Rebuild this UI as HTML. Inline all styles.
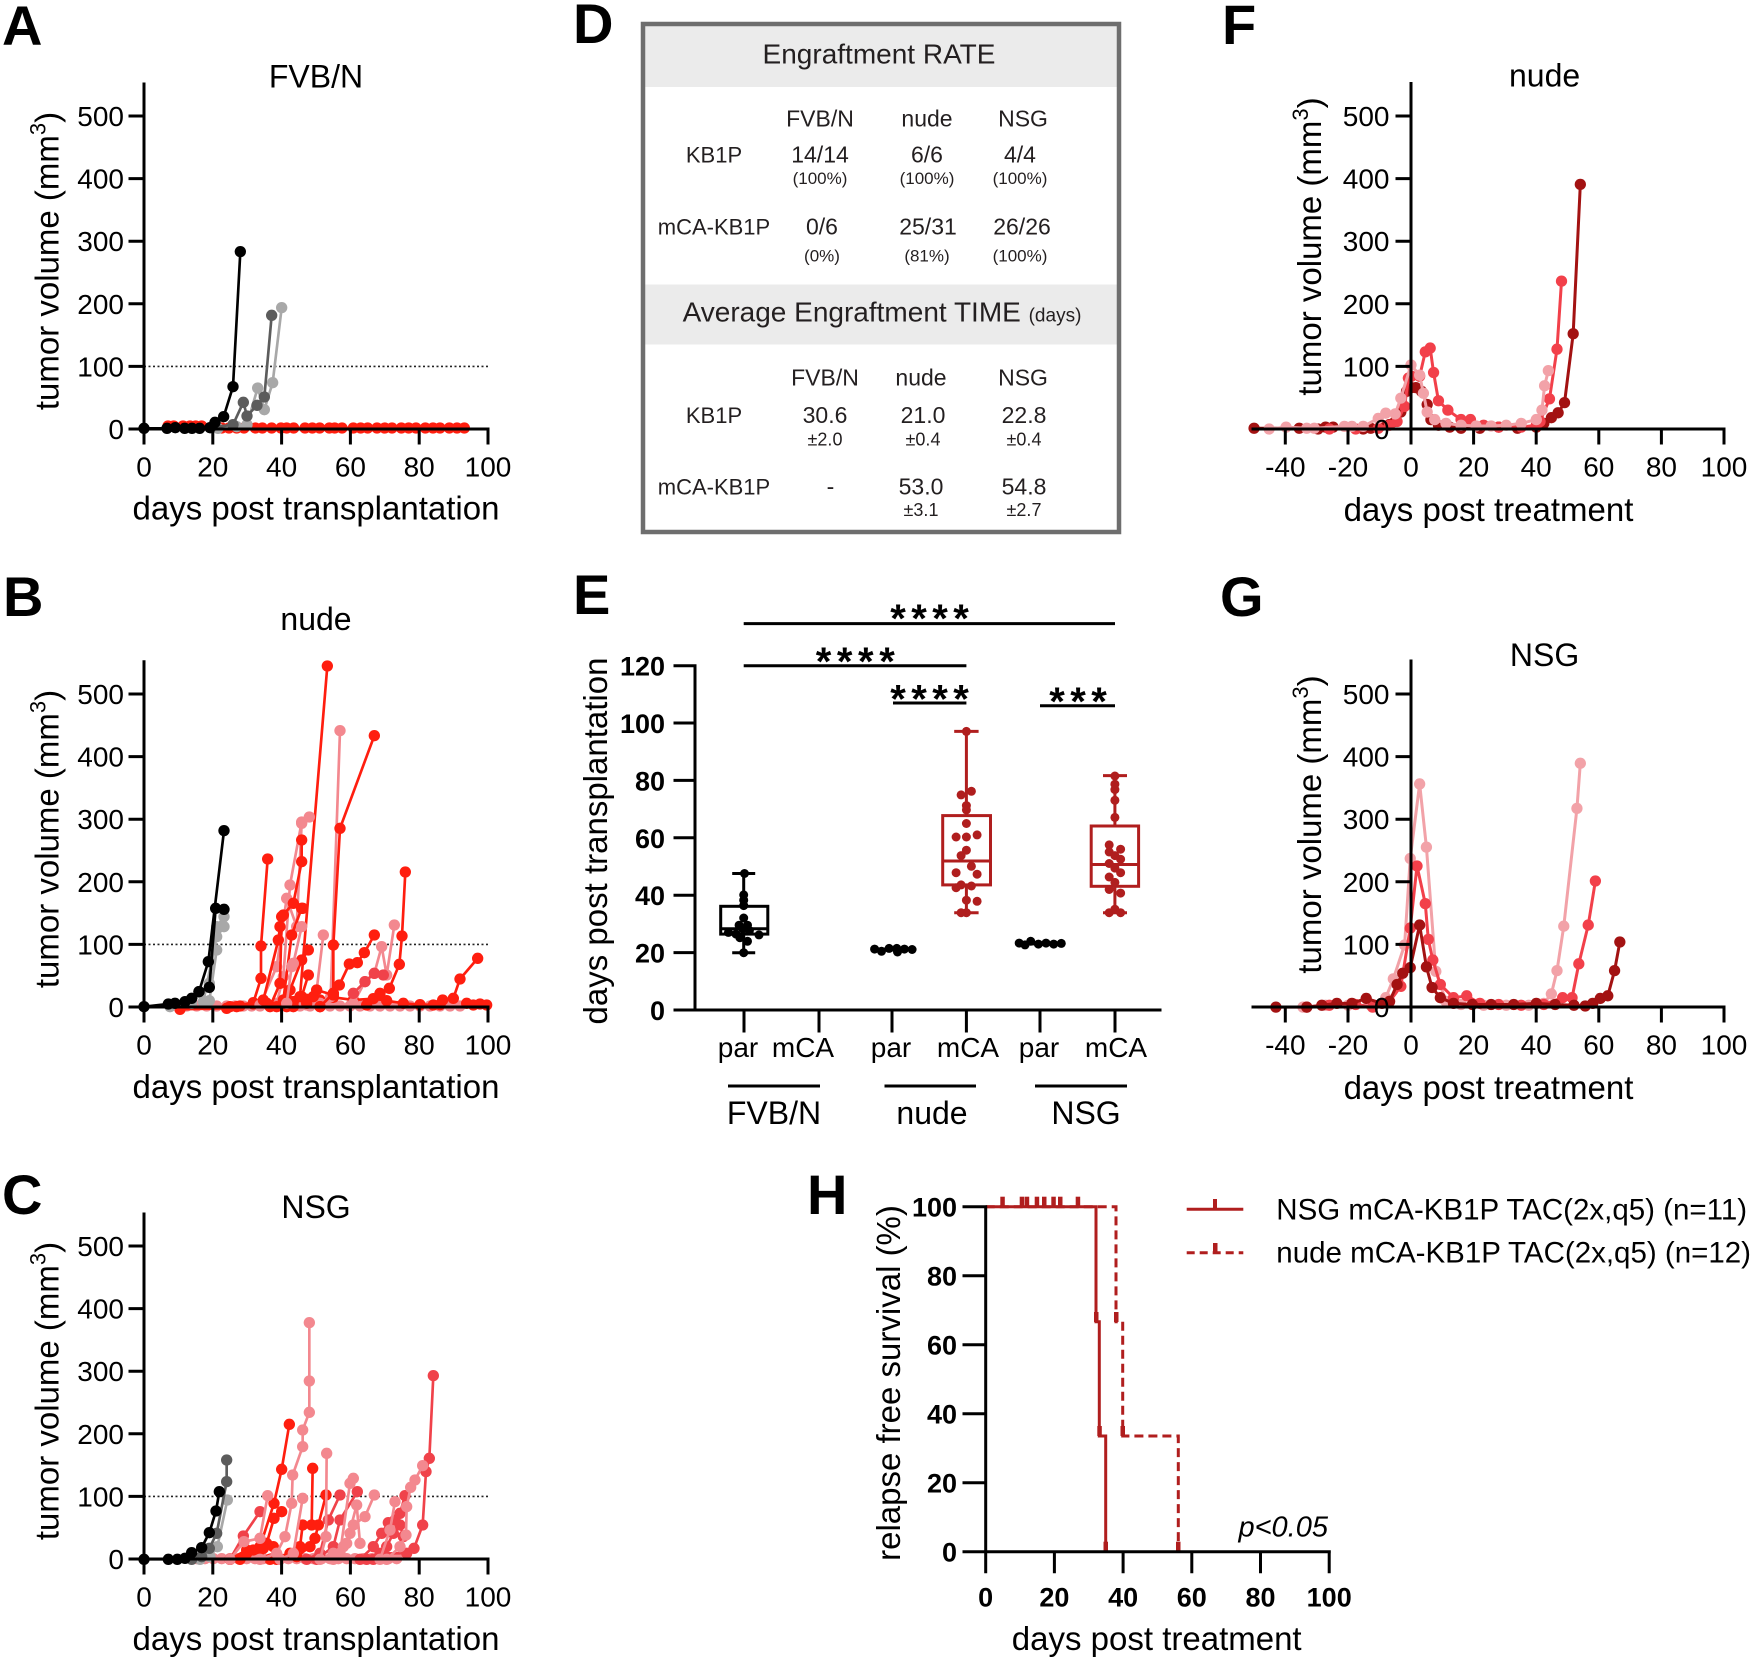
<!DOCTYPE html>
<html><head><meta charset="utf-8"><style>
html,body{margin:0;padding:0;background:#fff;}
svg{display:block;}
.ax{stroke:#000;stroke-width:3;fill:none;stroke-linecap:square;}
.tk{font-size:28px;fill:#000;}
.tt{font-size:33px;fill:#000;}
.ti{font-size:32px;fill:#000;}
.lt{font-size:56px;font-weight:bold;fill:#000;}
.s{fill:none;stroke-width:8;stroke-linejoin:round;}
.k{stroke:#000;marker:url(#m_k);}
.dg{stroke:#5c5c5c;marker:url(#m_dg);}
.lg{stroke:#a8a8a8;marker:url(#m_lg);}
.r{stroke:#ff1e0f;marker:url(#m_r);}
.m{stroke:#f0424a;marker:url(#m_m);}
.p{stroke:#f3888f;marker:url(#m_p);}
.d{stroke:#a31212;marker:url(#m_d);}
.fr{stroke:#f2404a;marker:url(#m_fr);}
.fp{stroke:#f2a2a8;marker:url(#m_fp);}
.tb{font-family:"Liberation Sans",Arial,sans-serif;fill:#231f20;}
</style></head><body>
<svg width="1750" height="1663" viewBox="0 0 1750 1663" font-family="Liberation Sans, Arial, sans-serif">
<defs>
<marker id="m_k" viewBox="-20 -20 40 40" markerWidth="40" markerHeight="40" markerUnits="userSpaceOnUse" refX="0" refY="0"><circle r="17" fill="#000"/></marker>
<marker id="m_dg" viewBox="-20 -20 40 40" markerWidth="40" markerHeight="40" markerUnits="userSpaceOnUse" refX="0" refY="0"><circle r="17" fill="#5c5c5c"/></marker>
<marker id="m_lg" viewBox="-20 -20 40 40" markerWidth="40" markerHeight="40" markerUnits="userSpaceOnUse" refX="0" refY="0"><circle r="17" fill="#a8a8a8"/></marker>
<marker id="m_r" viewBox="-20 -20 40 40" markerWidth="40" markerHeight="40" markerUnits="userSpaceOnUse" refX="0" refY="0"><circle r="17" fill="#ff1e0f"/></marker>
<marker id="m_m" viewBox="-20 -20 40 40" markerWidth="40" markerHeight="40" markerUnits="userSpaceOnUse" refX="0" refY="0"><circle r="17" fill="#f0424a"/></marker>
<marker id="m_p" viewBox="-20 -20 40 40" markerWidth="40" markerHeight="40" markerUnits="userSpaceOnUse" refX="0" refY="0"><circle r="17" fill="#f3888f"/></marker>
<marker id="m_d" viewBox="-20 -20 40 40" markerWidth="40" markerHeight="40" markerUnits="userSpaceOnUse" refX="0" refY="0"><circle r="15" fill="#a31212"/></marker>
<marker id="m_fr" viewBox="-20 -20 40 40" markerWidth="40" markerHeight="40" markerUnits="userSpaceOnUse" refX="0" refY="0"><circle r="15" fill="#f2404a"/></marker>
<marker id="m_fp" viewBox="-20 -20 40 40" markerWidth="40" markerHeight="40" markerUnits="userSpaceOnUse" refX="0" refY="0"><circle r="15" fill="#f2a2a8"/></marker>
</defs>
<rect width="1750" height="1663" fill="#fff"/>

<!-- Panel letters -->
<text class="lt" x="2" y="45">A</text>
<text class="lt" x="3" y="616">B</text>
<text class="lt" x="2" y="1214">C</text>
<text class="lt" x="573" y="43">D</text>
<text class="lt" x="573" y="614">E</text>
<text class="lt" x="1222" y="44">F</text>
<text class="lt" x="1220" y="616">G</text>
<text class="lt" x="807" y="1214">H</text>

<!-- ============ PANEL A ============ -->
<g>
<text class="ti" x="316" y="87.5" text-anchor="middle">FVB/N</text>
<line x1="144" y1="366.4" x2="488" y2="366.4" stroke="#222" stroke-width="1.6" stroke-dasharray="2,2.5"/>
<g transform="translate(120,72) scale(0.33333)">
<polyline class="s r" points="144,1062 161,1062 189,1062 210,1062 227,1062 245,1062 305,1068 327,1068 350,1068 372,1068 406,1068 427,1068 455,1068 483,1068 500,1068 521,1068 555,1068 577,1068 599,1068 628,1068 644,1068 666,1068 700,1068 722,1068 743,1068 771,1068 794,1068 816,1068 844,1068 866,1068 888,1068 916,1068 939,1068 960,1068 988,1068 1011,1068 1033,1068"/>
<polyline class="s lg" points="294,1069 350,1064 381,1058 413,948 433,1013 458,932 485,707"/>
<polyline class="s dg" points="272,1067 339,1058 370,991 381,1032 411,1000 433,975 455,730"/>
<polyline class="s k" points="72,1069 141,1069 166,1067 194,1069 216,1069 239,1069 270,1067 285,1051 311,1034 339,944 361,539"/>
</g>
<path class="ax" d="M144,84 V429 H488 M144,429 v14 M212.8,429 v14 M281.6,429 v14 M350.4,429 v14 M419.2,429 v14 M488,429 v14 M130,429 h14 M130,366.4 h14 M130,303.8 h14 M130,241.2 h14 M130,178.6 h14 M130,116 h14"/>
<g class="tk" text-anchor="end">
<text x="124" y="439">0</text><text x="124" y="376.4">100</text><text x="124" y="313.8">200</text><text x="124" y="251.2">300</text><text x="124" y="188.6">400</text><text x="124" y="126">500</text>
</g>
<g class="tk" text-anchor="middle">
<text x="144" y="476.6">0</text><text x="212.8" y="476.6">20</text><text x="281.6" y="476.6">40</text><text x="350.4" y="476.6">60</text><text x="419.2" y="476.6">80</text><text x="488" y="476.6">100</text>
</g>
<text class="tt" x="316" y="519.5" text-anchor="middle">days post transplantation</text>
<text class="tt" transform="translate(58.5,261) rotate(-90)" text-anchor="middle">tumor volume (mm<tspan font-size="22" dy="-13">3</tspan><tspan dy="13">)</tspan></text>
</g>

<!-- ============ PANEL B ============ -->
<g>
<text class="ti" x="316" y="630" text-anchor="middle">nude</text>
<line x1="144" y1="944.4" x2="488" y2="944.4" stroke="#222" stroke-width="1.6" stroke-dasharray="2,2.5"/>
<g transform="translate(120,650) scale(0.33333)">
<polyline class="s p" points="175,1068 200,1068 230,1068 260,1068 290,1068 320,1068 345,1068 370,1068 395,1068 420,1068 450,1068 480,1068 510,1068 540,1068 570,1068 600,1068 630,1068 660,1068 690,1068 720,1068 750,1068 780,1068 810,1068 840,1068 870,1068 900,1068 930,1068 960,1068 990,1068 1020,1068"/>
<polyline class="s r" points="180,1078 320,1075 360,1068 400,1062 440,1060 480,1058 520,1055 560,1048 600,1050 640,1042 700,1050 760,1046 800,1052 850,1060 900,1064 960,1064"/>
<polyline class="s r" points="350,1070 440,1060 500,1045 540,1040 622,48"/>
<polyline class="s p" points="560,1065 600,1060 632,1040 660,242"/>
<polyline class="s r" points="600,1070 640,1030 640,885 660,535 763,257"/>
<polyline class="s r" points="330,1070 400,1058 423,985 423,888 443,627"/>
<polyline class="s p" points="470,1060 490,980 510,705 545,516 568,501"/>
<polyline class="s p" points="420,1065 470,950 500,745 530,830 545,520"/>
<polyline class="s r" points="450,1070 480,1000 485,800 520,760 545,635 545,570"/>
<polyline class="s r" points="470,1070 490,1050 515,855 545,775 548,775"/>
<polyline class="s r" points="430,1050 475,870 480,830 490,795"/>
<polyline class="s r" points="500,1070 510,1020 545,930 565,900"/>
<polyline class="s r" points="520,1070 545,1040 565,975"/>
<polyline class="s p" points="500,1060 515,950 520,940 545,830"/>
<polyline class="s p" points="570,1060 590,1020 610,855"/>
<polyline class="s r" points="600,1070 640,1030 658,1005 688,942 712,938 733,908 763,855"/>
<polyline class="s p" points="700,1060 735,995 763,970 785,890 800,975 823,825"/>
<polyline class="s m" points="700,1030 735,995 763,970 790,975"/>
<polyline class="s r" points="740,1065 780,1030 808,1015 838,943 846,858 856,666"/>
<polyline class="s r" points="560,1060 580,1040 590,1020 640,1035"/>
<polyline class="s r" points="940,1065 968,1050 1000,1045 1020,987 1073,925"/>
<polyline class="s r" points="1040,1060 1060,1065 1080,1062 1100,1065"/>
<polyline class="s lg" points="150,1070 215,1060 268,1000 290,830 312,800"/>
<polyline class="s lg" points="250,1055 290,860 312,830"/>
<polyline class="s lg" points="268,1052 290,900"/>
<polyline class="s k" points="72,1070 145,1062 165,1060 195,1055 215,1045 237,1025 268,1012 287,775 312,778"/>
<polyline class="s k" points="237,1025 265,935 312,542"/>
</g>
<path class="ax" d="M144,661.7 V1007 H488 M144,1007 v14 M212.8,1007 v14 M281.6,1007 v14 M350.4,1007 v14 M419.2,1007 v14 M488,1007 v14 M130,1007 h14 M130,944.4 h14 M130,881.8 h14 M130,819.2 h14 M130,756.6 h14 M130,694 h14"/>
<g class="tk" text-anchor="end">
<text x="124" y="1017">0</text><text x="124" y="954.4">100</text><text x="124" y="891.8">200</text><text x="124" y="829.2">300</text><text x="124" y="766.6">400</text><text x="124" y="704">500</text>
</g>
<g class="tk" text-anchor="middle">
<text x="144" y="1054.6">0</text><text x="212.8" y="1054.6">20</text><text x="281.6" y="1054.6">40</text><text x="350.4" y="1054.6">60</text><text x="419.2" y="1054.6">80</text><text x="488" y="1054.6">100</text>
</g>
<text class="tt" x="316" y="1098" text-anchor="middle">days post transplantation</text>
<text class="tt" transform="translate(58.5,839) rotate(-90)" text-anchor="middle">tumor volume (mm<tspan font-size="22" dy="-13">3</tspan><tspan dy="13">)</tspan></text>
</g>

<!-- ============ PANEL C ============ -->
<g>
<text class="ti" x="316" y="1218" text-anchor="middle">NSG</text>
<line x1="144" y1="1496.4" x2="488" y2="1496.4" stroke="#222" stroke-width="1.6" stroke-dasharray="2,2.5"/>
<g transform="translate(120,1200) scale(0.33333)">
<polyline class="s p" points="230,1076 255,1076 280,1076 305,1076 330,1076 355,1076 380,1076 405,1076 430,1076 455,1076 480,1076 505,1076 530,1076 555,1076 580,1076 605,1076 630,1076 655,1076 680,1076 705,1076 730,1076 755,1076 780,1076 805,1076 830,1076"/>
<polyline class="s m" points="330,1078 370,1008 420,935"/>
<polyline class="s r" points="330,1078 380,1050 420,1040 462,910 485,808 508,673"/>
<polyline class="s r" points="360,1078 420,1050 440,1030 462,955 485,935"/>
<polyline class="s r" points="380,1060 400,1050 430,1045 460,1040"/>
<polyline class="s r" points="450,1078 510,1060 540,1040 548,975 575,975 578,805"/>
<polyline class="s r" points="470,1078 530,1070 570,1040 585,1015 595,975 618,885"/>
<polyline class="s m" points="560,1078 600,1060 625,960 660,885"/>
<polyline class="s m" points="590,1078 640,1040 660,960 712,875"/>
<polyline class="s p" points="420,1078 470,1060 495,1010 515,910 518,825 548,740 548,690 568,637 568,543 568,368"/>
<polyline class="s p" points="330,1078 372,1025 420,1015 443,887"/>
<polyline class="s p" points="480,1078 520,1060 548,895"/>
<polyline class="s p" points="600,1078 618,1010 620,760"/>
<polyline class="s p" points="640,1078 670,1040 690,1000 700,975 735,950 763,885"/>
<polyline class="s p" points="660,1060 690,850 700,835"/>
<polyline class="s p" points="640,1060 680,1030 710,915 720,1030"/>
<polyline class="s m" points="740,1078 780,1060 860,1060 882,1045 908,975 918,815 928,775 940,527"/>
<polyline class="s m" points="720,1078 760,1040 785,1000 805,968 825,960 840,940 855,887"/>
<polyline class="s m" points="760,1078 800,1040 820,1000 840,975 850,1010"/>
<polyline class="s p" points="800,1078 840,1040 858,1005 860,920 872,862 885,840 908,797"/>
<polyline class="s p" points="780,1078 810,990 825,905"/>
<polyline class="s lg" points="240,1078 270,1070 292,1040 322,900"/>
<polyline class="s dg" points="215,1078 245,1070 268,1045 290,1000 320,845 320,780"/>
<polyline class="s k" points="72,1078 145,1078 172,1078 195,1075 215,1058 245,1043 268,998 288,933 298,875"/>
</g>
<path class="ax" d="M144,1214 V1559 H488 M144,1559 v14 M212.8,1559 v14 M281.6,1559 v14 M350.4,1559 v14 M419.2,1559 v14 M488,1559 v14 M130,1559 h14 M130,1496.4 h14 M130,1433.8 h14 M130,1371.2 h14 M130,1308.6 h14 M130,1246 h14"/>
<g class="tk" text-anchor="end">
<text x="124" y="1569">0</text><text x="124" y="1506.4">100</text><text x="124" y="1443.8">200</text><text x="124" y="1381.2">300</text><text x="124" y="1318.6">400</text><text x="124" y="1256">500</text>
</g>
<g class="tk" text-anchor="middle">
<text x="144" y="1606.6">0</text><text x="212.8" y="1606.6">20</text><text x="281.6" y="1606.6">40</text><text x="350.4" y="1606.6">60</text><text x="419.2" y="1606.6">80</text><text x="488" y="1606.6">100</text>
</g>
<text class="tt" x="316" y="1650" text-anchor="middle">days post transplantation</text>
<text class="tt" transform="translate(58.5,1391) rotate(-90)" text-anchor="middle">tumor volume (mm<tspan font-size="22" dy="-13">3</tspan><tspan dy="13">)</tspan></text>
</g>

<!-- ============ PANEL D (table) ============ -->
<g class="tb">
<rect x="645" y="26" width="472" height="61" fill="#ebebeb"/>
<rect x="645" y="284.5" width="472" height="60" fill="#ebebeb"/>
<rect x="643" y="24" width="476" height="508" fill="none" stroke="#6e6e6e" stroke-width="4.5"/>
<text x="879" y="63.5" font-size="28" text-anchor="middle">Engraftment RATE</text>
<g font-size="23" text-anchor="middle">
<text x="820" y="126.7">FVB/N</text><text x="927" y="126.7">nude</text><text x="1023" y="126.7">NSG</text>
<text x="714" y="162.4" font-size="22">KB1P</text>
<text x="820" y="162.4">14/14</text><text x="927" y="162.4">6/6</text><text x="1020" y="162.4">4/4</text>
<text x="714" y="234.5" font-size="22">mCA-KB1P</text>
<text x="822" y="234.5">0/6</text><text x="928" y="234.5">25/31</text><text x="1022" y="234.5">26/26</text>
</g>
<g font-size="17" text-anchor="middle">
<text x="820" y="184">(100%)</text><text x="927" y="184">(100%)</text><text x="1020" y="184">(100%)</text>
<text x="822" y="261.7">(0%)</text><text x="927" y="261.7">(81%)</text><text x="1020" y="261.7">(100%)</text>
</g>
<text x="882" y="321.3" font-size="28" text-anchor="middle">Average Engraftment TIME <tspan font-size="19">(days)</tspan></text>
<g font-size="23" text-anchor="middle">
<text x="825" y="385.6">FVB/N</text><text x="921" y="385.6">nude</text><text x="1023" y="385.6">NSG</text>
<text x="714" y="423" font-size="22">KB1P</text>
<text x="825" y="423">30.6</text><text x="923" y="423">21.0</text><text x="1024" y="423">22.8</text>
<text x="714" y="494.5" font-size="22">mCA-KB1P</text>
<text x="830.5" y="494.5">-</text><text x="921" y="494.5">53.0</text><text x="1024" y="494.5">54.8</text>
</g>
<g font-size="18" text-anchor="middle">
<text x="825" y="445.5">±2.0</text><text x="923" y="445.5">±0.4</text><text x="1024" y="445.5">±0.4</text>
<text x="921" y="516">±3.1</text><text x="1024" y="516">±2.7</text>
</g>
</g>

<!-- ============ PANEL E ============ -->
<g>
<g stroke="#000" stroke-width="3">
<line x1="743.7" y1="623.6" x2="1115" y2="623.6"/>
<line x1="743.7" y1="665.7" x2="966.4" y2="665.7"/>
<line x1="893" y1="703" x2="966.4" y2="703"/>
<line x1="1040" y1="705.7" x2="1115" y2="705.7"/>
</g>
<g font-size="40" font-weight="bold" text-anchor="middle" fill="#000">
<text x="898" y="632">*</text><text x="919" y="632">*</text><text x="940" y="632">*</text><text x="961" y="632">*</text>
<text x="823.6" y="675">*</text><text x="844.7" y="675">*</text><text x="865.8" y="675">*</text><text x="887" y="675">*</text>
<text x="898" y="712.7">*</text><text x="919" y="712.7">*</text><text x="940" y="712.7">*</text><text x="961" y="712.7">*</text>
<text x="1057" y="715">*</text><text x="1078" y="715">*</text><text x="1099" y="715">*</text>
</g>
<path class="ax" d="M695,665.7 V1010 H1160 M675,1010 h20 M675,952.6 h20 M675,895.2 h20 M675,837.8 h20 M675,780.4 h20 M675,723 h20 M675,665.7 h20 M744,1010 v21 M819,1010 v21 M892,1010 v21 M966.4,1010 v21 M1040,1010 v21 M1115,1010 v21"/>
<g font-size="27" font-weight="bold" text-anchor="end" fill="#000">
<text x="665" y="1020">0</text><text x="665" y="962.6">20</text><text x="665" y="905.2">40</text><text x="665" y="847.8">60</text><text x="665" y="790.4">80</text><text x="665" y="733">100</text><text x="665" y="675.7">120</text>
</g>
<g font-size="28" text-anchor="middle" fill="#000">
<text x="738" y="1057">par</text><text x="803" y="1057">mCA</text><text x="891" y="1057">par</text><text x="968" y="1057">mCA</text><text x="1039" y="1057">par</text><text x="1116" y="1057">mCA</text>
</g>
<g stroke="#000" stroke-width="3">
<line x1="728" y1="1086" x2="820" y2="1086"/><line x1="884.5" y1="1086" x2="976" y2="1086"/><line x1="1035" y1="1086" x2="1127" y2="1086"/>
</g>
<g font-size="32" text-anchor="middle" fill="#000">
<text x="774" y="1124">FVB/N</text><text x="932" y="1124">nude</text><text x="1086" y="1124">NSG</text>
</g>
<text class="tt" transform="translate(607,841) rotate(-90)" text-anchor="middle">days post transplantation</text>
<g stroke="#000" stroke-width="3" fill="none">
<line x1="743.7" y1="873.5" x2="743.7" y2="906.3"/><line x1="743.7" y1="934.1" x2="743.7" y2="952.7"/>
<line x1="732.2" y1="873.5" x2="755.2" y2="873.5"/><line x1="732.2" y1="952.7" x2="755.2" y2="952.7"/>
<rect x="720.7" y="906.3" width="47.1" height="27.8"/>
<line x1="720.7" y1="928.8" x2="767.8" y2="928.8"/>
</g>
<g fill="#000">
<circle cx="744.5" cy="873.5" r="4.5"/><circle cx="743.7" cy="894.9" r="4.5"/><circle cx="743.7" cy="900.2" r="4.5"/><circle cx="743.7" cy="905.6" r="4.5"/><circle cx="743.7" cy="918" r="4.5"/><circle cx="739.1" cy="925.2" r="4.5"/><circle cx="747.5" cy="925.2" r="4.5"/><circle cx="742.9" cy="928.8" r="4.5"/><circle cx="749.4" cy="930.6" r="4.5"/><circle cx="728.4" cy="932.4" r="4.5"/><circle cx="736" cy="934.1" r="4.5"/><circle cx="759" cy="934.9" r="4.5"/><circle cx="739.9" cy="937.7" r="4.5"/><circle cx="747.5" cy="941.3" r="4.5"/><circle cx="743.7" cy="952.7" r="4.5"/>
</g>
<line x1="872" y1="949.5" x2="916" y2="949.5" stroke="#000" stroke-width="4"/>
<g fill="#000">
<circle cx="874.6" cy="949.1" r="4.5"/><circle cx="881.5" cy="951.3" r="4.5"/><circle cx="889.1" cy="948.4" r="4.5"/><circle cx="896.8" cy="948.4" r="4.5"/><circle cx="897.5" cy="952" r="4.5"/><circle cx="904.4" cy="949.1" r="4.5"/><circle cx="912.1" cy="949.5" r="4.5"/>
</g>
<line x1="1017" y1="943.4" x2="1064" y2="943.4" stroke="#000" stroke-width="4"/>
<g fill="#000">
<circle cx="1019.2" cy="943.1" r="4.5"/><circle cx="1025" cy="944.9" r="4.5"/><circle cx="1030.7" cy="941.3" r="4.5"/><circle cx="1038.4" cy="944.1" r="4.5"/><circle cx="1046" cy="943.1" r="4.5"/><circle cx="1053.7" cy="944.1" r="4.5"/><circle cx="1061.3" cy="943.4" r="4.5"/>
</g>
<g stroke="#b01e1e" stroke-width="3" fill="none">
<line x1="966.4" y1="731.4" x2="966.4" y2="815.6"/><line x1="966.4" y1="884.9" x2="966.4" y2="912.7"/>
<line x1="954.2" y1="731.4" x2="978.6" y2="731.4"/><line x1="954.2" y1="912.7" x2="978.6" y2="912.7"/>
<rect x="942.7" y="815.6" width="47.8" height="69.3"/>
<line x1="942.7" y1="861" x2="990.5" y2="861"/>
</g>
<g fill="#b01e1e">
<circle cx="966.4" cy="731.4" r="4.5"/><circle cx="961.1" cy="794.9" r="4.5"/><circle cx="971.4" cy="791.3" r="4.5"/><circle cx="966.4" cy="805.6" r="4.5"/><circle cx="966.4" cy="809.9" r="4.5"/><circle cx="966.4" cy="823.5" r="4.5"/><circle cx="956.1" cy="837" r="4.5"/><circle cx="966.4" cy="837" r="4.5"/><circle cx="977.1" cy="834.9" r="4.5"/><circle cx="966.4" cy="850.2" r="4.5"/><circle cx="961.1" cy="855.6" r="4.5"/><circle cx="971.4" cy="866.3" r="4.5"/><circle cx="956.1" cy="872.7" r="4.5"/><circle cx="977.1" cy="874.2" r="4.5"/><circle cx="961.1" cy="884.9" r="4.5"/><circle cx="971.4" cy="886" r="4.5"/><circle cx="956.1" cy="887.7" r="4.5"/><circle cx="966.4" cy="900.2" r="4.5"/><circle cx="977.1" cy="901.3" r="4.5"/><circle cx="966.4" cy="912.7" r="4.5"/><circle cx="961.1" cy="912.7" r="4.5"/>
</g>
<g stroke="#b01e1e" stroke-width="3" fill="none">
<line x1="1114.9" y1="775.6" x2="1114.9" y2="826"/><line x1="1114.9" y1="886.3" x2="1114.9" y2="912.7"/>
<line x1="1103" y1="775.6" x2="1127" y2="775.6"/><line x1="1103" y1="912.7" x2="1127" y2="912.7"/>
<rect x="1091.2" y="826" width="47.4" height="60.3"/>
<line x1="1091.2" y1="864.5" x2="1138.6" y2="864.5"/>
</g>
<g fill="#b01e1e">
<circle cx="1114.9" cy="776" r="4.5"/><circle cx="1114.9" cy="784.2" r="4.5"/><circle cx="1114.9" cy="789.6" r="4.5"/><circle cx="1114.9" cy="800.3" r="4.5"/><circle cx="1114.9" cy="817.4" r="4.5"/><circle cx="1109.2" cy="844.9" r="4.5"/><circle cx="1120.6" cy="849.2" r="4.5"/><circle cx="1109.2" cy="852" r="4.5"/><circle cx="1114.9" cy="855.6" r="4.5"/><circle cx="1120.6" cy="859.2" r="4.5"/><circle cx="1109.2" cy="863.5" r="4.5"/><circle cx="1114.9" cy="868.1" r="4.5"/><circle cx="1120.6" cy="872.7" r="4.5"/><circle cx="1109.2" cy="877" r="4.5"/><circle cx="1114.9" cy="882.4" r="4.5"/><circle cx="1109.2" cy="889.5" r="4.5"/><circle cx="1120.6" cy="893.1" r="4.5"/><circle cx="1114.9" cy="909.2" r="4.5"/><circle cx="1109.2" cy="912.7" r="4.5"/><circle cx="1120.6" cy="912.7" r="4.5"/>
</g>
</g>

<!-- ============ PANEL F ============ -->
<g>
<text class="ti" x="1544.6" y="86.5" text-anchor="middle">nude</text>
<g transform="translate(1160,0) scale(0.3763)">
<polyline class="s d" points="250,1138 370,1138 420,1140 440,1135 460,1135 540,1140 560,1138 590,1130 610,1128 625,1120 640,1095 655,1040 668,1030 680,1030 695,1040 710,1075 720,1115 740,1130 770,1135 800,1138 850,1138 900,1135 950,1138 1000,1135 1020,1125 1040,1110 1058,1097 1075,1070 1098,887 1117,490"/>
<polyline class="s fr" points="450,1140 520,1140 580,1138 610,1130 630,1120 650,1080 660,1005 668,1000 690,1000 705,935 718,925 727,990 740,1065 765,1090 800,1115 825,1115 860,1130 900,1135 960,1135 1000,1130 1010,1120 1035,1060 1055,928 1067,747"/>
<polyline class="s fp" points="290,1140 335,1135 390,1138 410,1138 490,1133 510,1133 540,1133 580,1112 600,1098 625,1100 640,1058 667,970 690,997 700,1045 710,1095 730,1115 760,1125 800,1130 840,1132 880,1132 920,1130 960,1125 1000,1115 1015,1090 1022,1025 1032,985"/>
</g>
<path class="ax" d="M1411,83.5 V429 M1253,429 H1724 M1285.3,429 v14 M1348,429 v14 M1411,429 v14 M1473.6,429 v14 M1536.2,429 v14 M1598.8,429 v14 M1661.4,429 v14 M1724,429 v14 M1397,429 h14 M1397,366.4 h14 M1397,303.8 h14 M1397,241.2 h14 M1397,178.6 h14 M1397,116 h14"/>
<g class="tk" text-anchor="end">
<text x="1389.5" y="439">0</text><text x="1389.5" y="376.4">100</text><text x="1389.5" y="313.8">200</text><text x="1389.5" y="251.2">300</text><text x="1389.5" y="188.6">400</text><text x="1389.5" y="126">500</text>
</g>
<g class="tk" text-anchor="middle">
<text x="1285.3" y="476.6">-40</text><text x="1348" y="476.6">-20</text><text x="1411" y="476.6">0</text><text x="1473.6" y="476.6">20</text><text x="1536.2" y="476.6">40</text><text x="1598.8" y="476.6">60</text><text x="1661.4" y="476.6">80</text><text x="1724" y="476.6">100</text>
</g>
<text class="tt" x="1488.5" y="521" text-anchor="middle">days post treatment</text>
<text class="tt" transform="translate(1321,246.5) rotate(-90)" text-anchor="middle">tumor volume (mm<tspan font-size="22" dy="-13">3</tspan><tspan dy="13">)</tspan></text>
</g>

<!-- ============ PANEL G ============ -->
<g>
<text class="ti" x="1544.6" y="665.8" text-anchor="middle">NSG</text>
<g transform="translate(1160,580) scale(0.3763)">
<polyline class="s fp" points="380,1135 440,1130 500,1130 560,1130 600,1110 620,1060 650,970 665,740 690,542 708,710 733,1040 760,1120 800,1128 860,1130 920,1130 980,1130 1020,1125 1040,1100 1055,1038 1073,920 1108,607 1117,487"/>
<polyline class="s fr" points="390,1135 450,1130 520,1128 565,1135 610,1120 640,1080 665,925 683,760 705,860 713,955 725,1010 745,1075 780,1110 815,1105 850,1125 900,1128 960,1130 1020,1128 1070,1110 1095,1110 1113,1020 1138,917 1157,800"/>
<polyline class="s d" points="308,1135 390,1135 430,1130 470,1125 510,1125 548,1112 590,1125 610,1120 630,1075 645,1045 665,1030 690,917 708,1028 723,1083 745,1110 780,1125 830,1128 880,1128 940,1128 1000,1125 1050,1128 1100,1130 1130,1132 1150,1125 1170,1112 1190,1105 1208,1038 1222,962"/>
</g>
<path class="ax" d="M1411,661 V1007 M1253,1007 H1724 M1285.3,1007 v14 M1348,1007 v14 M1411,1007 v14 M1473.6,1007 v14 M1536.2,1007 v14 M1598.8,1007 v14 M1661.4,1007 v14 M1724,1007 v14 M1397,1007 h14 M1397,944.4 h14 M1397,881.8 h14 M1397,819.2 h14 M1397,756.6 h14 M1397,694 h14"/>
<g class="tk" text-anchor="end">
<text x="1389.5" y="1017">0</text><text x="1389.5" y="954.4">100</text><text x="1389.5" y="891.8">200</text><text x="1389.5" y="829.2">300</text><text x="1389.5" y="766.6">400</text><text x="1389.5" y="704">500</text>
</g>
<g class="tk" text-anchor="middle">
<text x="1285.3" y="1054.6">-40</text><text x="1348" y="1054.6">-20</text><text x="1411" y="1054.6">0</text><text x="1473.6" y="1054.6">20</text><text x="1536.2" y="1054.6">40</text><text x="1598.8" y="1054.6">60</text><text x="1661.4" y="1054.6">80</text><text x="1724" y="1054.6">100</text>
</g>
<text class="tt" x="1488.5" y="1099" text-anchor="middle">days post treatment</text>
<text class="tt" transform="translate(1321,824.5) rotate(-90)" text-anchor="middle">tumor volume (mm<tspan font-size="22" dy="-13">3</tspan><tspan dy="13">)</tspan></text>
</g>

<!-- ============ PANEL H ============ -->
<g>
<path d="M985.7,1206.7 H1116 V1321.7 H1122.7 V1436 H1178.3 V1551.7" fill="none" stroke="#b01e1e" stroke-width="3" stroke-dasharray="9,5"/>
<path d="M985.7,1206.7 H1096 V1321.7 H1099.3 V1436 H1105.7 V1551.7" fill="none" stroke="#b01e1e" stroke-width="3"/>
<g fill="#b01e1e">
<rect x="1000.3" y="1196.7" width="4.5" height="10"/><rect x="1019.7" y="1196.7" width="4.5" height="10"/><rect x="1024.7" y="1196.7" width="4.5" height="10"/><rect x="1034.7" y="1196.7" width="4.5" height="10"/><rect x="1042" y="1196.7" width="4.5" height="10"/><rect x="1051.3" y="1196.7" width="4.5" height="10"/><rect x="1058" y="1196.7" width="4.5" height="10"/><rect x="1075.7" y="1196.7" width="4.5" height="10"/>
<rect x="1094" y="1312" width="4.5" height="10"/><rect x="1097.3" y="1426" width="4.5" height="10"/><rect x="1103.5" y="1541.7" width="4.5" height="10"/>
<rect x="1114" y="1312" width="4.5" height="10"/><rect x="1120.5" y="1426" width="4.5" height="10"/><rect x="1176" y="1541.7" width="4.5" height="10"/>
</g>
<path class="ax" d="M985.7,1206.7 V1551.7 H1329.3 M964,1551.7 h21.7 M964,1482.7 h21.7 M964,1413.7 h21.7 M964,1344.7 h21.7 M964,1275.7 h21.7 M964,1206.7 h21.7 M985.7,1551.7 v20 M1054.4,1551.7 v20 M1123.1,1551.7 v20 M1191.8,1551.7 v20 M1260.5,1551.7 v20 M1329.2,1551.7 v20"/>
<g font-size="27" font-weight="bold" text-anchor="end" fill="#000">
<text x="957" y="1561.7">0</text><text x="957" y="1492.7">20</text><text x="957" y="1423.7">40</text><text x="957" y="1354.7">60</text><text x="957" y="1285.7">80</text><text x="957" y="1216.7">100</text>
</g>
<g font-size="27" font-weight="bold" text-anchor="middle" fill="#000">
<text x="985.7" y="1606.7">0</text><text x="1054.4" y="1606.7">20</text><text x="1123.1" y="1606.7">40</text><text x="1191.8" y="1606.7">60</text><text x="1260.5" y="1606.7">80</text><text x="1329.2" y="1606.7">100</text>
</g>
<text class="tt" x="1156.7" y="1650" text-anchor="middle">days post treatment</text>
<text class="tt" transform="translate(900,1383) rotate(-90)" text-anchor="middle">relapse free survival (%)</text>
<text x="1328" y="1536.7" font-size="29" font-style="italic" text-anchor="end" fill="#000">p&lt;0.05</text>
<line x1="1186.7" y1="1209.3" x2="1243.3" y2="1209.3" stroke="#b01e1e" stroke-width="3"/>
<rect x="1213" y="1199" width="4" height="10" fill="#b01e1e"/>
<line x1="1186.7" y1="1252.7" x2="1243.3" y2="1252.7" stroke="#b01e1e" stroke-width="3" stroke-dasharray="8,5"/>
<rect x="1213" y="1243" width="4.5" height="10" fill="#b01e1e"/>
<text x="1276.3" y="1219.3" font-size="29.5" fill="#000">NSG mCA-KB1P TAC(2x,q5) (n=11)</text>
<text x="1276.3" y="1262.7" font-size="29.5" fill="#000">nude mCA-KB1P TAC(2x,q5) (n=12)</text>
</g>
</svg>
</body></html>
